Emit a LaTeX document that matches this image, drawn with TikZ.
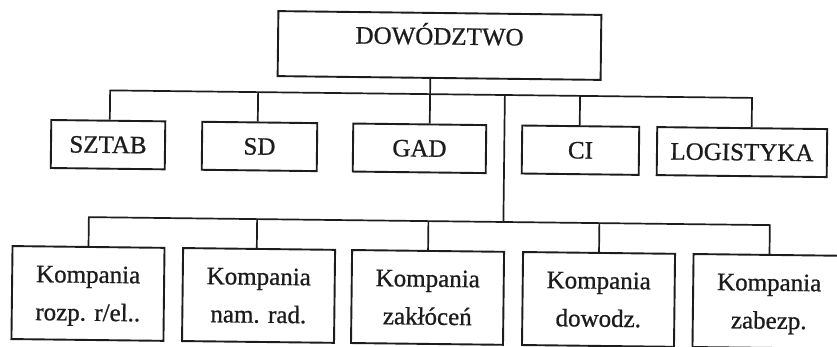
\documentclass[tikz,border=0pt]{standalone}
\usepackage{fontspec}
\setmainfont[FakeBold=0.8]{Liberation Serif}
\definecolor{ink}{RGB}{28,28,28}
\tikzset{
  unitbox/.style={draw=ink, line width=1.9pt, inner sep=0pt, text=ink,
    font=\fontsize{25}{38}\selectfont},
  headbox/.style={unitbox, minimum width=323pt, minimum height=65pt,
    text height=16pt, text depth=18pt},
  midbox/.style={unitbox, minimum height=48pt, text height=16.5pt, text depth=0pt},
  lowbox/.style={unitbox, align=center, minimum width=152pt, minimum height=93pt,
    text depth=0pt},
  link/.style={draw=ink, line width=1.7pt},
}
\begin{document}
\begin{tikzpicture}[x=1pt,y=-1pt]
\useasboundingbox (0,0) rectangle (837,346);
\fill[white] (0,0) rectangle (837,346);
\clip (0,0) rectangle (837,346);
\begin{scope}[rotate around={-0.67:(418,173)}, transform shape]
  % top
  \node[headbox] (dow) at (438,45.25) {DOWÓDZTWO};
  % second row
  \node[midbox, minimum width=114pt] (sztab) at (107.7,148.3) {SZTAB};
  \node[midbox, minimum width=115pt] (sd) at (259.2,148.3) {SD};
  \node[midbox, minimum width=133pt] (gad) at (419.2,148.3) {GAD};
  \node[midbox, minimum width=117pt] (ci) at (580.2,148.3) {CI};
  \node[midbox, minimum width=170pt] (log) at (741.7,148.3) {LOGISTYKA};
  % bottom row
  \node[lowbox] (k1) at (89.4,297.3) {Kompania\\rozp. r/el..};
  \node[lowbox] (k2) at (260,297.3) {Kompania\\nam. rad.};
  \node[lowbox] (k3) at (429,297.3) {Kompania\\zakłóceń};
  \node[lowbox] (k4) at (600,297.3) {Kompania\\dowodz.};
  \node[lowbox] (k5) at (770.5,297.3) {Kompania\\zabezp.};
  % junctions
  \coordinate (bustop) at (429.2,94);
  \coordinate (j2) at (504,94);
  \coordinate (j3) at (504,221);
  % upper tree
  \draw[link] ([xshift=-8.8pt]dow.south) -- ([xshift=10pt]gad.north);
  \draw[link] ([xshift=1.5pt]sztab.north) |- (bustop) -| ([xshift=9.5pt]log.north);
  \draw[link] ([xshift=-2pt]sd.north) -- ([xshift=-2pt]sd.north |- bustop);
  \draw[link] ([xshift=-1pt]ci.north) -- ([xshift=-1pt]ci.north |- bustop);
  % link to lower tree
  \draw[link] (j2) -- (j3);
  \draw[link] (k1.north) |- (j3) -| (k5.north);
  \draw[link] ([xshift=-2.3pt]k2.north) -- ([xshift=-2.3pt]k2.north |- j3);
  \draw[link] (k3.north) -- (k3.north |- j3);
  \draw[link] (k4.north) -- (k4.north |- j3);
\end{scope}
\end{tikzpicture}
\end{document}
